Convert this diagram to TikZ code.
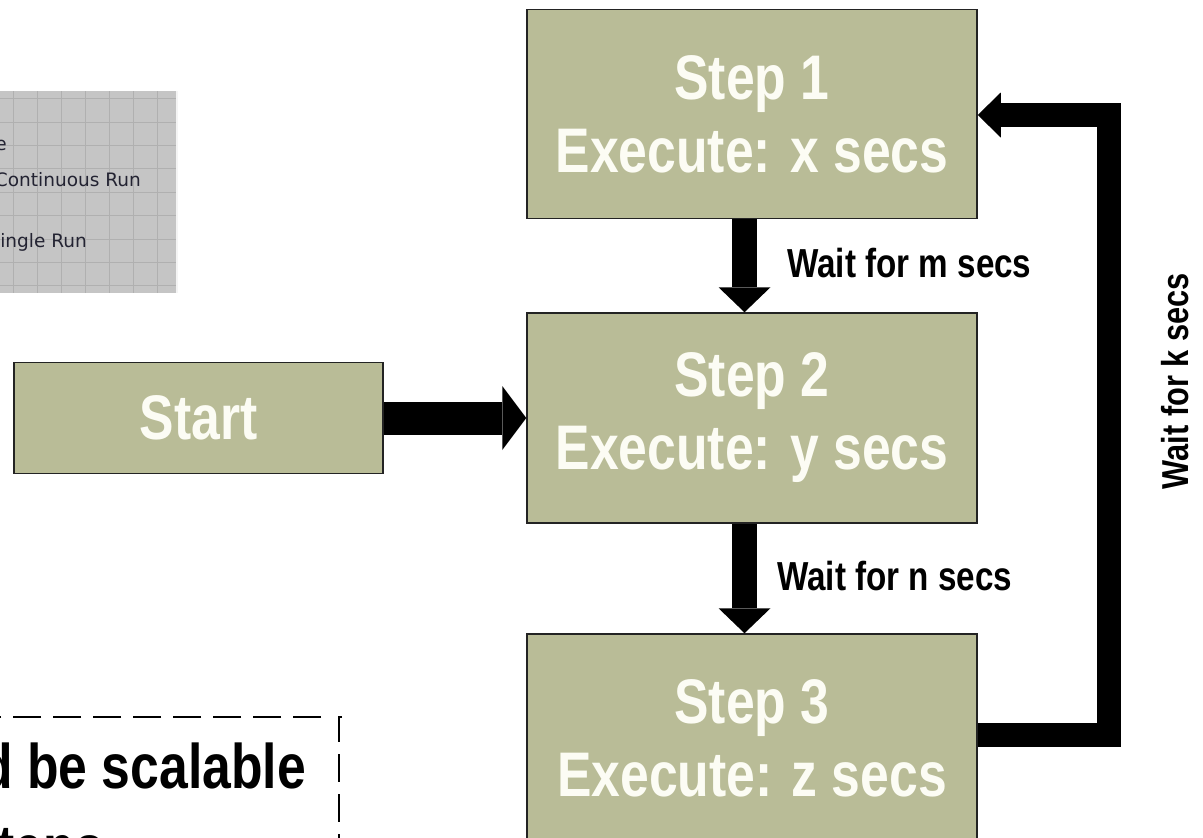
\documentclass[tikz,border=0pt]{standalone}
\usepackage{fontspec}
\newfontfamily\nar[FakeStretch=0.82]{Liberation Sans}
\newfontfamily\uifont{DejaVu Sans}
\usetikzlibrary{calc}
\definecolor{boxolive}{RGB}{185,188,151}
\definecolor{boxline}{RGB}{35,35,35}
\definecolor{panelgray}{RGB}{197,197,197}
\definecolor{gridgray}{RGB}{176,176,176}
\definecolor{uitext}{RGB}{35,35,50}
\definecolor{boxtext}{RGB}{252,252,244}
\tikzset{
  stepbox/.style={draw=boxline, line width=1.5pt, fill=boxolive, minimum width=450pt,
    minimum height=209pt, inner sep=0pt, align=center, text=boxtext,
    font=\nar\bfseries\fontsize{63}{73}\selectfont},
  startbox/.style={stepbox, minimum width=369pt, minimum height=111pt},
  lbl/.style={inner sep=0pt, font=\nar\bfseries\fontsize{40.5}{48}\selectfont},
  vlbl/.style={inner sep=0pt, font=\nar\bfseries\fontsize{37.5}{45}\selectfont},
  bigtxt/.style={inner sep=0pt, font=\nar\bfseries\fontsize{63}{73}\selectfont},
  uitxt/.style={inner sep=0pt, text=uitext, font=\uifont\fontsize{18.5}{22}\selectfont},
  notedash/.style={line width=2pt, dash pattern=on 28pt off 12pt},
  gridline/.style={gridgray, line width=1pt}
}
\begin{document}
\begin{tikzpicture}[x=1pt,y=-1pt]
\useasboundingbox (0,0) rectangle (1203,838);
\clip (0,0) rectangle (1203,838);
\fill[white] (0,0) rectangle (1203,838);

% screenshot panel
\fill[panelgray] (0,91) rectangle (178,293);
\foreach \x in {13,37,61,85,109,133,157} \draw[gridline] (\x,91) -- (\x,293);
\foreach \y in {98,122,145,168,192,215,239,262,285} \draw[gridline] (0,\y) -- (178,\y);
\draw[white!80!panelgray, line width=2pt] (177,91) -- (177,293);
\node[uitxt, anchor=base east] (pe) at (7,150) {e};
\node[uitxt, anchor=base east] (pc) at (141,186) {Continuous Run};
\node[uitxt, anchor=base east] (ps) at (87,247) {ingle Run};

% boxes
\node[stepbox] (s1) at (752,114) {Step 1\\Execute: x secs};
\node[stepbox, minimum height=210pt] (s2) at (752,418) {Step 2\\Execute: y secs};
\node[stepbox] (s3) at (752,738.5) {Step 3\\Execute: z secs};
\node[startbox] (start) at (198.5,418) {Start};

% start -> step 2
\draw[line width=33pt] (start.east) -- ($(s2.west)+(-24pt,0)$);
\fill (s2.west) -- ++(-24pt,32pt) -- ++(0,-64pt) -- cycle;

% step 1 -> step 2
\coordinate (a1) at ([xshift=-7.5pt]s1.south);
\coordinate (a1e) at ([xshift=-7.5pt]s2.north);
\draw[line width=25pt] (a1) -- ([yshift=25pt]a1e);
\fill (a1e) -- ++(-26pt,25pt) -- ++(52pt,0) -- cycle;

% step 2 -> step 3
\coordinate (a2) at ([xshift=-7.5pt]s2.south);
\coordinate (a2e) at ([xshift=-7.5pt]s3.north);
\draw[line width=25pt] (a2) -- ([yshift=25pt]a2e);
\fill (a2e) -- ++(-26pt,25pt) -- ++(52pt,0) -- cycle;

% loop step 3 -> step 1
\draw[line width=24pt, line join=miter] ([yshift=3.5pt]s3.east)
  -| ([xshift=131.5pt,yshift=-1pt]s1.east) -- ([xshift=23pt,yshift=-1pt]s1.east);
\fill ([yshift=-1pt]s1.east) -- ++(23pt,22.5pt) -- ++(0,-45pt) -- cycle;

% labels
\node[lbl, anchor=base west] (wm) at (787,277) {Wait for m secs};
\node[lbl, anchor=base west] (wn) at (777,590) {Wait for n secs};
\node[vlbl, anchor=base east, rotate=90] (wk) at (1188,273) {Wait for k secs};

% dashed note
\draw[notedash] (342,717) -- (339,717) -- (339,900);
\draw[notedash] (321,717) -- (-40,717);
\node[bigtxt, anchor=base east] (n1) at (306,788) {d be scalable};
\node[bigtxt, anchor=base east] (n2) at (104,869) {teps};
\end{tikzpicture}
\end{document}
